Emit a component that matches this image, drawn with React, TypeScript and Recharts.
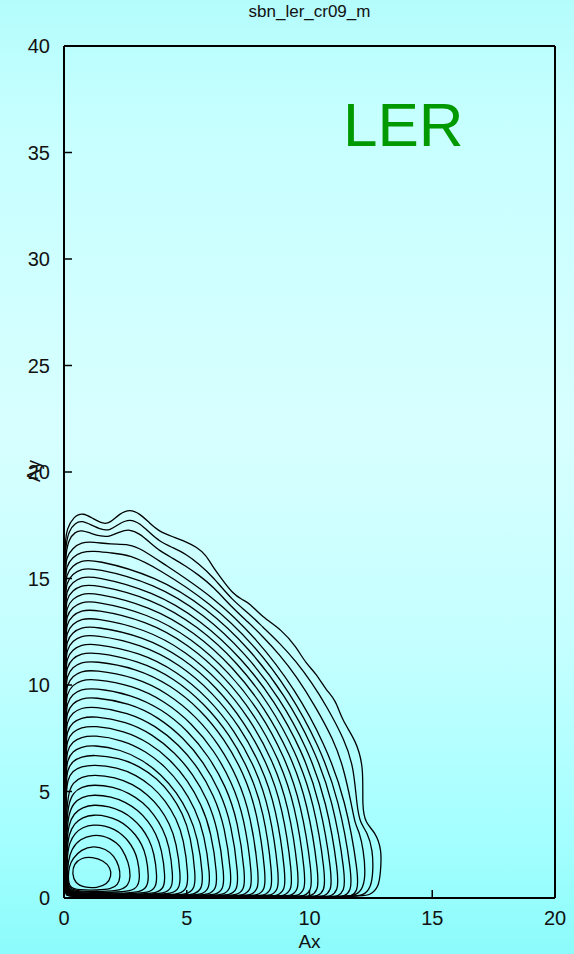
import { Line, LineChart, XAxis, YAxis } from "recharts"

type Point = [number, number]

const xTicks = [0, 5, 10, 15, 20]
const yTicks = [0, 5, 10, 15, 20, 25, 30, 35, 40]

// closed contour loops, (Ax, Ay) pairs
const innerContours: Point[][] = [
  [[0.33,1.15],[0.4,1.6],[0.72,1.9],[1.15,1.93],[1.6,1.77],[1.9,1.42],[1.93,1.02],[1.76,0.65],[1.35,0.47],[0.82,0.49],[0.45,0.7]],
  [[1.2,2.45],[1.7,2.31],[2.04,1.98],[2.25,1.49],[2.3,1.0],[2.2,0.6],[1.9,0.41],[1.4,0.37],[0.6,0.37],[0.2,0.5],[0.17,1.0],[0.2,1.45],[0.35,1.85],[0.7,2.28]],
  [[1.2,2.97],[1.58,2.92],[1.88,2.79],[2.14,2.59],[2.36,2.33],[2.64,1.66],[2.72,1.0],[2.62,0.58],[2.3,0.35],[1.6,0.3],[0.6,0.3],[0.16,0.45],[0.14,1.0],[0.16,1.7],[0.3,2.3],[0.65,2.78]],
  [[1.2,3.45],[1.68,3.39],[2.06,3.22],[2.38,2.97],[2.64,2.65],[2.85,2.27],[3.0,1.83],[3.1,1.0],[3.02,0.55],[2.75,0.31],[2.0,0.26],[0.5,0.26],[0.14,0.4],[0.12,1.0],[0.13,2.0],[0.22,2.6],[0.45,3.05],[0.75,3.32]],
  [[1.2,3.92],[1.77,3.84],[2.22,3.65],[2.6,3.35],[2.92,2.97],[3.17,2.52],[3.35,1.98],[3.46,1.0],[3.39,0.52],[3.12,0.27],[2.3,0.22],[0.5,0.22],[0.13,0.36],[0.11,1.0],[0.12,2.3],[0.2,3.0],[0.42,3.5],[0.75,3.79]],
  [[1.2,4.39],[1.85,4.3],[2.37,4.07],[2.81,3.73],[3.18,3.29],[3.46,2.76],[3.67,2.14],[3.8,1.0],[3.74,0.5],[3.48,0.24],[2.6,0.19],[0.5,0.19],[0.12,0.33],[0.1,1.0],[0.11,2.6],[0.19,3.45],[0.4,3.97],[0.75,4.26]],
  [[1.2,4.86],[1.93,4.76],[2.52,4.5],[3.02,4.11],[3.43,3.61],[3.75,3.01],[3.98,2.3],[4.13,1.0],[4.07,0.48],[3.8,0.22],[2.9,0.17],[0.5,0.17],[0.11,0.3],[0.09,1.0],[0.1,2.9],[0.18,3.9],[0.38,4.46],[0.72,4.74]],
  [[1.2,5.33],[2.01,5.22],[2.66,4.92],[3.22,4.49],[3.67,3.92],[4.03,3.25],[4.29,2.46],[4.45,1.0],[4.39,0.47],[4.12,0.2],[3.2,0.155],[0.5,0.155],[0.1,0.28],[0.08,1.0],[0.09,3.2],[0.17,4.4],[0.37,4.95],[0.72,5.22]],
  [[1.2,5.8],[2.09,5.68],[2.8,5.35],[3.41,4.86],[3.91,4.24],[4.3,3.5],[4.58,2.62],[4.76,1.0],[4.7,0.46],[4.43,0.19],[3.5,0.145],[0.5,0.145],[0.095,0.27],[0.075,1.0],[0.08,3.5],[0.16,4.9],[0.36,5.43],[0.72,5.69]],
]

const middleContours: Point[][] = [
  [[1.2,6.27],[2.17,6.13],[2.94,5.78],[3.6,5.24],[4.14,4.56],[4.57,3.74],[4.88,2.78],[5.07,1.0],[5.01,0.46],[4.75,0.18],[4.0,0.135],[0.5,0.135],[0.09,0.26],[0.07,1.0],[0.07,4.77],[0.14,5.57],[0.35,5.97],[0.7,6.17]],
  [[1.2,6.73],[2.24,6.58],[3.08,6.19],[3.79,5.61],[4.37,4.87],[4.83,3.98],[5.16,2.93],[5.37,1.0],[5.31,0.45],[5.05,0.17],[4.3,0.125],[0.5,0.125],[0.085,0.25],[0.065,1.0],[0.065,5.23],[0.13,6.03],[0.35,6.43],[0.7,6.63]],
  [[1.2,7.19],[2.32,6.97],[3.21,6.48],[3.97,5.79],[4.6,4.94],[5.09,3.97],[5.45,2.85],[5.67,1.0],[5.61,0.44],[5.35,0.16],[4.6,0.115],[0.5,0.115],[0.08,0.24],[0.06,1.0],[0.06,5.69],[0.13,6.49],[0.35,6.89],[0.7,7.09]],
  [[1.2,7.65],[2.39,7.42],[3.34,6.89],[4.15,6.15],[4.82,5.24],[5.34,4.19],[5.72,2.99],[5.96,1.0],[5.9,0.44],[5.64,0.155],[4.9,0.11],[0.5,0.11],[0.08,0.23],[0.06,1.0],[0.06,6.15],[0.13,6.95],[0.35,7.35],[0.7,7.55]],
  [[1.2,8.1],[2.46,7.85],[3.47,7.29],[4.33,6.5],[5.04,5.52],[5.59,4.4],[6.0,3.12],[6.25,1.0],[6.19,0.43],[5.93,0.15],[5.2,0.105],[0.5,0.105],[0.075,0.22],[0.055,1.0],[0.055,6.6],[0.12,7.4],[0.35,7.8],[0.7,8.0]],
  [[1.2,8.55],[2.54,8.29],[3.6,7.69],[4.51,6.84],[5.26,5.81],[5.85,4.62],[6.27,3.26],[6.54,1.0],[6.48,0.42],[6.22,0.145],[5.5,0.1],[0.5,0.1],[0.075,0.21],[0.055,1.0],[0.055,7.05],[0.12,7.85],[0.35,8.25],[0.7,8.45]],
  [[1.2,9.0],[2.61,8.72],[3.73,8.09],[4.69,7.19],[5.48,6.1],[6.1,4.83],[6.55,3.39],[6.83,1.0],[6.77,0.42],[6.51,0.14],[5.8,0.095],[0.5,0.095],[0.07,0.2],[0.05,1.0],[0.05,7.5],[0.12,8.3],[0.35,8.7],[0.7,8.92]],
  [[1.2,9.44],[2.68,9.15],[3.86,8.48],[4.86,7.53],[5.69,6.38],[6.34,5.04],[6.82,3.52],[7.11,1.0],[7.05,0.41],[6.79,0.135],[6.1,0.09],[0.5,0.09],[0.07,0.19],[0.05,1.0],[0.05,7.94],[0.12,8.74],[0.35,9.14],[0.7,9.36]],
  [[1.2,9.87],[2.75,9.56],[3.99,8.86],[5.04,7.87],[5.9,6.65],[6.59,5.25],[7.08,3.65],[7.39,1.0],[7.33,0.41],[7.07,0.13],[6.4,0.085],[0.5,0.085],[0.07,0.18],[0.05,1.0],[0.05,8.37],[0.12,9.17],[0.35,9.57],[0.7,9.79]],
  [[1.2,10.3],[2.82,9.98],[4.11,9.24],[5.21,8.2],[6.12,6.92],[6.83,5.46],[7.35,3.78],[7.67,1.0],[7.61,0.4],[7.35,0.125],[6.7,0.08],[0.5,0.08],[0.065,0.17],[0.045,1.0],[0.045,8.8],[0.115,9.6],[0.35,10.0],[0.7,10.22]],
  [[1.2,10.72],[2.89,10.38],[4.24,9.61],[5.39,8.52],[6.33,7.19],[7.07,5.66],[7.61,3.91],[7.95,1.0],[7.89,0.4],[7.63,0.12],[7.0,0.078],[0.5,0.078],[0.065,0.17],[0.045,1.0],[0.045,9.22],[0.115,10.02],[0.35,10.42],[0.7,10.64]],
  [[1.2,11.14],[2.96,10.79],[4.36,9.98],[5.56,8.85],[6.54,7.46],[7.32,5.86],[7.88,4.03],[8.23,1.0],[8.17,0.39],[7.91,0.115],[7.3,0.075],[0.5,0.075],[0.065,0.16],[0.045,1.0],[0.045,9.64],[0.115,10.44],[0.35,10.84],[0.7,11.06]],
  [[1.2,11.55],[3.03,11.16],[4.49,10.32],[5.73,9.11],[6.75,7.67],[7.55,5.99],[8.14,4.1],[8.5,1.0],[8.44,0.38],[8.18,0.11],[7.6,0.072],[0.5,0.072],[0.06,0.15],[0.04,1.0],[0.04,10.05],[0.11,10.85],[0.35,11.25],[0.7,11.47]],
  [[1.2,11.96],[3.09,11.54],[4.61,10.63],[5.89,9.38],[6.95,7.86],[7.79,6.13],[8.39,4.17],[8.77,1.0],[8.71,0.38],[8.45,0.105],[7.9,0.07],[0.5,0.07],[0.06,0.15],[0.04,1.0],[0.04,10.46],[0.11,11.26],[0.35,11.66],[0.7,11.88]],
  [[1.2,12.37],[3.16,11.92],[4.73,10.96],[6.06,9.64],[7.16,8.06],[8.02,6.25],[8.65,4.24],[9.04,1.0],[8.98,0.37],[8.72,0.1],[8.2,0.068],[0.5,0.068],[0.06,0.14],[0.04,1.0],[0.04,10.87],[0.11,11.67],[0.35,12.07],[0.7,12.29]],
  [[1.2,12.77],[3.23,12.29],[4.85,11.28],[6.23,9.89],[7.36,8.24],[8.26,6.37],[8.91,4.3],[9.31,1.0],[9.25,0.37],[8.99,0.1],[8.5,0.065],[0.5,0.065],[0.06,0.14],[0.04,1.0],[0.04,11.27],[0.11,12.07],[0.35,12.47],[0.7,12.69]],
]

const outerContours: Point[][] = [
  [[1.2,13.17],[3.3,12.65],[4.97,11.58],[6.4,10.13],[7.57,8.42],[8.49,6.49],[9.16,4.35],[9.58,1.0],[9.52,0.36],[9.26,0.095],[8.8,0.062],[0.5,0.062],[0.055,0.13],[0.035,1.0],[0.035,11.67],[0.105,12.47],[0.35,12.87],[0.7,13.09]],
  [[1.2,13.57],[3.36,13.02],[5.09,11.89],[6.56,10.38],[7.77,8.59],[8.73,6.59],[9.42,4.39],[9.85,1.0],[9.79,0.36],[9.53,0.09],[9.1,0.06],[0.5,0.06],[0.055,0.13],[0.035,1.0],[0.035,12.07],[0.105,12.87],[0.35,13.27],[0.7,13.49]],
  [[1.2,13.96],[3.43,13.36],[5.21,12.18],[6.73,10.6],[7.98,8.76],[8.96,6.7],[9.67,4.44],[10.12,1.0],[10.06,0.35],[9.8,0.088],[9.4,0.058],[0.5,0.058],[0.055,0.12],[0.035,1.0],[0.035,12.46],[0.105,13.26],[0.35,13.66],[0.7,13.88]],
  [[1.2,14.35],[3.5,13.71],[5.34,12.47],[6.9,10.83],[8.18,8.92],[9.2,6.79],[9.93,4.48],[10.39,1.0],[10.33,0.35],[10.07,0.085],[9.7,0.056],[0.5,0.056],[0.055,0.12],[0.035,1.0],[0.035,12.85],[0.105,13.65],[0.35,14.05],[0.7,14.27]],
  [[1.2,14.74],[3.57,14.07],[5.46,12.76],[7.07,11.06],[8.39,9.07],[9.43,6.88],[10.19,4.52],[10.66,1.0],[10.6,0.35],[10.34,0.083],[10.0,0.054],[0.5,0.054],[0.05,0.12],[0.03,1.0],[0.03,13.24],[0.1,14.04],[0.35,14.44],[0.7,14.66]],
  [[1.2,15.13],[3.63,14.41],[5.58,13.04],[7.23,11.27],[8.6,9.22],[9.67,6.97],[10.44,4.55],[10.93,1.0],[10.87,0.34],[10.61,0.08],[10.3,0.052],[0.5,0.052],[0.05,0.11],[0.03,1.0],[0.03,13.63],[0.1,14.43],[0.35,14.83],[0.7,15.05]],
  [[1.2,15.52],[3.7,14.77],[5.7,13.33],[7.4,11.48],[8.8,9.37],[9.9,7.06],[10.7,4.57],[11.2,1.0],[11.14,0.34],[10.88,0.078],[10.6,0.05],[0.5,0.05],[0.05,0.11],[0.03,1.0],[0.03,14.02],[0.1,14.82],[0.35,15.22],[0.7,15.44]],
  [[1.2,15.91],[3.77,15.11],[5.82,13.61],[7.57,11.7],[9.01,9.51],[10.14,7.13],[10.96,4.6],[11.47,1.0],[11.41,0.33],[11.15,0.075],[10.9,0.048],[0.5,0.048],[0.045,0.1],[0.025,1.0],[0.025,14.41],[0.095,15.21],[0.35,15.61],[0.7,15.83]],
  [[1.2,16.3],[1.87,16.2],[2.68,16.12],[3.84,15.46],[5.94,13.88],[7.74,11.91],[9.21,9.65],[10.37,7.2],[11.21,4.63],[11.74,1.0],[11.68,0.33],[11.42,0.072],[11.1,0.046],[0.5,0.046],[0.045,0.1],[0.025,1.0],[0.025,14.8],[0.095,15.6],[0.35,16.0],[0.7,16.24]],
  [[1.2,16.72],[1.87,16.6],[2.68,16.62],[3.2,16.35],[3.9,15.81],[6.07,14.17],[7.9,12.12],[9.42,9.79],[10.61,7.28],[11.47,4.64],[12.01,1.0],[11.95,0.32],[11.69,0.07],[11.4,0.044],[0.5,0.044],[0.04,0.1],[0.02,1.0],[0.02,15.2],[0.09,16.0],[0.35,16.42],[0.7,16.7]],
  [[0.035,0.4],[0.035,15.4],[0.08,16.2],[0.2,16.85],[0.45,17.18],[0.7,17.28],[1.1,17.12],[1.5,16.98],[1.87,16.96],[2.27,17.2],[2.68,17.32],[3.08,17.1],[3.49,16.7],[3.89,16.3],[4.43,15.95],[4.98,15.57],[5.5,15.15],[6.06,14.64],[6.87,13.61],[7.5,12.95],[8.07,12.31],[8.8,11.4],[9.45,10.43],[10.24,9.0],[10.98,7.42],[11.38,6.16],[11.73,4.29],[11.85,3.5],[12.03,3.1],[12.2,2.25],[12.28,1.17],[12.2,0.5],[11.9,0.1],[11.3,0.045],[0.5,0.045],[0.05,0.12]],
  [[0.03,0.4],[0.03,15.8],[0.08,16.6],[0.2,17.25],[0.45,17.6],[0.72,17.72],[1.1,17.52],[1.5,17.3],[1.87,17.24],[2.27,17.6],[2.68,17.8],[3.08,17.6],[3.49,17.15],[3.89,16.74],[4.43,16.45],[4.98,16.14],[5.5,15.68],[6.06,15.09],[6.87,13.96],[7.5,13.4],[8.07,12.75],[8.8,11.95],[9.45,11.11],[10.1,10.1],[10.7,9.0],[11.43,7.42],[11.8,6.16],[11.93,4.29],[12.07,3.5],[12.35,3.1],[12.58,2.25],[12.59,1.17],[12.5,0.5],[12.2,0.1],[11.6,0.042],[0.5,0.042],[0.045,0.11]],
  [[0.025,0.4],[0.025,16.0],[0.06,16.8],[0.11,17.3],[0.38,17.9],[0.78,18.1],[1.19,17.8],[1.6,17.56],[1.87,17.6],[2.27,18.05],[2.68,18.26],[3.08,18.05],[3.49,17.6],[3.89,17.2],[4.43,16.96],[4.98,16.72],[5.38,16.49],[5.79,16.1],[6.06,15.55],[6.46,14.93],[6.87,14.3],[7.26,14.0],[7.55,13.85],[8.07,13.2],[8.88,12.58],[9.45,11.8],[9.86,11.0],[10.26,10.56],[10.67,9.77],[11.07,9.3],[11.32,8.36],[11.89,7.4],[12.21,6.16],[12.14,4.29],[12.28,3.5],[12.68,3.1],[12.95,2.25],[12.89,1.17],[12.82,0.53],[12.5,0.14],[12.0,0.04],[0.5,0.04],[0.04,0.1]],
]

const contours = [...innerContours, ...middleContours, ...outerContours].map((loop) =>
  loop.map(([x, y]) => ({ x, y }))
)

const font = '"Liberation Sans", Arial, Helvetica, sans-serif'

function BottomTick({ x, y, payload }: any) {
  return (
    <text x={x} y={y} dy={15} textAnchor="middle" fontSize={20} fontFamily={font} fill="#111">
      {payload.value}
    </text>
  )
}

function LeftTick({ x, y, payload }: any) {
  return (
    <text x={x} y={y} dy={7} textAnchor="end" fontSize={20} fontFamily={font} fill="#111">
      {payload.value}
    </text>
  )
}

const axisLine = { stroke: "#000", strokeWidth: 2 }
const tickLine = { stroke: "#000", strokeWidth: 1.5 }

export default function App() {
  return (
    <div
      style={{
        position: "absolute",
        left: 0,
        top: 0,
        width: 574,
        height: 954,
        overflow: "hidden",
        fontFamily: font,
        background:
          "linear-gradient(to bottom, #b4fcfc 0%, #c6ffff 12%, #d8ffff 45%, #c4ffff 68%, #a4ffff 88%, #8cfbfb 100%)",
      }}
    >
      <LineChart width={574} height={954} margin={{ top: 0, right: 0, bottom: 0, left: 0 }}>
        <XAxis
          xAxisId="b"
          dataKey="x"
          type="number"
          domain={[0, 20]}
          ticks={xTicks}
          interval={0}
          height={56}
          axisLine={axisLine}
          tickLine={tickLine}
          tickSize={-8}
          tickMargin={20}
          tick={<BottomTick />}
          allowDataOverflow
        />
        <XAxis
          xAxisId="t"
          orientation="top"
          dataKey="x"
          type="number"
          domain={[0, 20]}
          ticks={xTicks}
          interval={0}
          height={46}
          axisLine={axisLine}
          tickLine={tickLine}
          tickSize={-8}
          tick={false}
          allowDataOverflow
        />
        <YAxis
          yAxisId="l"
          type="number"
          domain={[0, 40]}
          ticks={yTicks}
          interval={0}
          width={64}
          axisLine={axisLine}
          tickLine={tickLine}
          tickSize={-8}
          tickMargin={22}
          tick={<LeftTick />}
          allowDataOverflow
        />
        <YAxis
          yAxisId="r"
          orientation="right"
          type="number"
          domain={[0, 40]}
          ticks={yTicks}
          interval={0}
          width={19}
          axisLine={axisLine}
          tickLine={tickLine}
          tickSize={-8}
          tick={false}
          allowDataOverflow
        />
        {contours.map((data, i) => (
          <Line
            key={i}
            xAxisId="b"
            yAxisId="l"
            data={data}
            dataKey="y"
            type="basisClosed"
            stroke="#000"
            strokeWidth={1.3}
            dot={false}
            activeDot={false}
            isAnimationActive={false}
          />
        ))}
      </LineChart>

      <div style={{ position: "absolute", left: 64, width: 491, top: 3, textAlign: "center", fontSize: 17, lineHeight: "18px", color: "#111" }}>
        sbn_ler_cr09_m
      </div>
      <div style={{ position: "absolute", left: 343, top: 94, fontSize: 62, lineHeight: "62px", color: "#009a00" }}>
        LER
      </div>
      <div style={{ position: "absolute", left: 64, width: 491, top: 932, textAlign: "center", fontSize: 19, lineHeight: "20px", color: "#111" }}>
        Ax
      </div>
      <div
        style={{
          position: "absolute",
          left: 34,
          top: 471,
          fontSize: 19,
          lineHeight: "20px",
          color: "#111",
          transform: "translate(-50%, -50%) rotate(-90deg)",
        }}
      >
        Ay
      </div>
    </div>
  )
}
